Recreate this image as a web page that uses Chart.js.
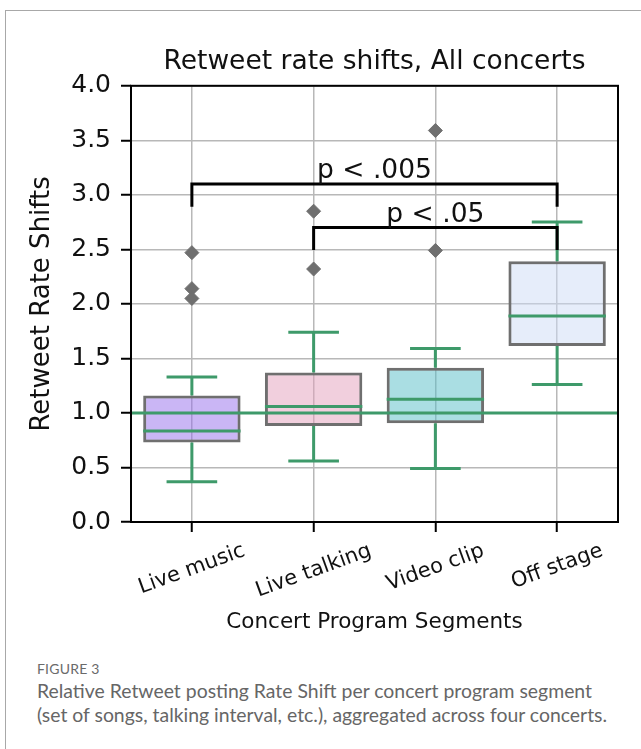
<!DOCTYPE html>
<html>
<head>
<meta charset="utf-8">
<script src="https://cdn.jsdelivr.net/npm/chart.js@4.4.1/dist/chart.umd.min.js"></script>
<style>
  body { margin: 0; background: #fff; }
  #frame { position: absolute; left: 5px; top: 10px; width: 700px; height: 800px;
           border-left: 1.5px solid #a8a8a8; border-top: 1.5px solid #a8a8a8; }
  #wrap { position: absolute; left: 0; top: 0; width: 641px; height: 650px; }
  #fig { position: absolute; left: 37px; top: 660px; font-family: Lato, sans-serif;
         font-size: 14px; color: #6a6a6a; letter-spacing: 0.2px; }
  #cap { position: absolute; left: 37px; top: 679px; font-family: Lato, sans-serif;
         font-size: 19.4px; line-height: 24px; color: #666; width: 604px; white-space: nowrap; }
</style>
</head>
<body>
<div id="frame"></div>
<div id="wrap"><canvas id="boxChart"></canvas></div>
<div id="fig">FIGURE 3</div>
<div id="cap">Relative Retweet posting Rate Shift per concert program segment<br>(set of songs, talking interval, etc.), aggregated across four concerts.</div>
<script>
const categories = ['Live music', 'Live talking', 'Video clip', 'Off stage'];
const q1 = [0.73, 0.88, 0.905, 1.615];
const q3 = [1.16, 1.37, 1.415, 2.39];
const medians = [0.835, 1.06, 1.125, 1.89];
const whiskerLow = [0.37, 0.56, 0.49, 1.26];
const whiskerHigh = [1.33, 1.74, 1.59, 2.75];
const outliers = [[2.47, 2.14, 2.05], [2.85, 2.32], [3.59, 2.49], []];
const yTicks = [0, 0.5, 1.0, 1.5, 2.0, 2.5, 3.0, 3.5, 4.0];
const baseline = 1.0;
const brackets = [
    { from: 0, to: 3, top: 3.1, foot: 2.89, text: 'p < .005' },
    { from: 1, to: 3, top: 2.7, foot: 2.495, text: 'p < .05' }
];

const boxFill = [
    'rgba(150, 110, 235, 0.5)',
    'rgba(228, 160, 188, 0.5)',
    'rgba(85, 190, 200, 0.5)',
    'rgba(205, 220, 245, 0.5)'
];
const green = '#3e9a6a';
const font = 'DejaVu Sans';

const boxParts = {
    id: 'boxParts',
    afterDatasetsDraw(chart) {
        const ctx = chart.ctx;
        const x = chart.scales.x, y = chart.scales.y;
        const area = chart.chartArea;
        const bars = chart.getDatasetMeta(0).data;
        ctx.save();
        ctx.strokeStyle = green;
        ctx.lineWidth = 3;
        categories.forEach((c, i) => {
            const cx = x.getPixelForValue(i);
            const half = bars[i].width / 2;
            const cap = half * 0.52;
            ctx.beginPath();
            ctx.moveTo(cx, y.getPixelForValue(q3[i]));
            ctx.lineTo(cx, y.getPixelForValue(whiskerHigh[i]));
            ctx.moveTo(cx, y.getPixelForValue(q1[i]));
            ctx.lineTo(cx, y.getPixelForValue(whiskerLow[i]));
            ctx.moveTo(cx - cap, y.getPixelForValue(whiskerHigh[i]));
            ctx.lineTo(cx + cap, y.getPixelForValue(whiskerHigh[i]));
            ctx.moveTo(cx - cap, y.getPixelForValue(whiskerLow[i]));
            ctx.lineTo(cx + cap, y.getPixelForValue(whiskerLow[i]));
            ctx.moveTo(cx - half, y.getPixelForValue(medians[i]));
            ctx.lineTo(cx + half, y.getPixelForValue(medians[i]));
            ctx.stroke();
        });
        // reference line
        ctx.beginPath();
        ctx.moveTo(area.left, y.getPixelForValue(baseline));
        ctx.lineTo(area.right, y.getPixelForValue(baseline));
        ctx.stroke();

        // axes frame
        ctx.strokeStyle = '#000';
        ctx.lineWidth = 2;
        ctx.strokeRect(area.left, area.top, area.right - area.left, area.bottom - area.top);

        // significance brackets
        ctx.lineWidth = 3;
        ctx.fillStyle = '#111';
        ctx.font = '26.5px "' + font + '"';
        ctx.textAlign = 'center';
        ctx.textBaseline = 'alphabetic';
        brackets.forEach(b => {
            const x1 = x.getPixelForValue(b.from), x2 = x.getPixelForValue(b.to);
            const yt = y.getPixelForValue(b.top), yf = y.getPixelForValue(b.foot);
            ctx.beginPath();
            ctx.moveTo(x1, yf);
            ctx.lineTo(x1, yt);
            ctx.lineTo(x2, yt);
            ctx.lineTo(x2, yf);
            ctx.stroke();
            ctx.fillText(b.text, (x1 + x2) / 2, yt - 6);
        });

        // rotated category labels
        ctx.font = '21px "' + font + '"';
        ctx.textBaseline = 'middle';
        const rot = 20 * Math.PI / 180;
        categories.forEach((c, i) => {
            const cx = x.getPixelForValue(i);
            const w = ctx.measureText(c).width, h = 24;
            const bh = w * Math.sin(rot) + h * Math.cos(rot);
            ctx.save();
            ctx.translate(cx, area.bottom + 17 + bh / 2);
            ctx.rotate(-rot);
            ctx.fillText(c, 0, 0);
            ctx.restore();
        });
        ctx.restore();
    }
};

const ctx = document.getElementById('boxChart').getContext('2d');

new Chart(ctx, {
    type: 'bar',
    data: {
        labels: categories,
        datasets: [{
            data: categories.map((c, i) => [q1[i], q3[i]]),
            backgroundColor: boxFill,
            borderColor: '#6f6f6f',
            borderWidth: 3,
            borderSkipped: false,
            barPercentage: 0.8,
            categoryPercentage: 1
        }, {
            type: 'scatter',
            data: outliers.flatMap((arr, i) => arr.map(v => ({ x: categories[i], y: v }))),
            pointStyle: 'rectRot',
            radius: 7,
            backgroundColor: '#6f6f6f',
            borderColor: '#6f6f6f'
        }]
    },
    options: {
        responsive: true,
        maintainAspectRatio: false,
        animation: false,
        layout: { padding: { left: 0, right: 23, top: 0, bottom: 15 } },
        plugins: {
            legend: { display: false },
            tooltip: { enabled: false },
            title: {
                display: true,
                fullSize: false,
                text: 'Retweet rate shifts, All concerts',
                color: '#111',
                font: { family: font, size: 26.5, weight: 'normal' },
                padding: { top: 46, bottom: 8 }
            }
        },
        scales: {
            x: {
                grid: { color: '#b8b8b8', lineWidth: 1.5, offset: false, tickColor: '#000', tickWidth: 2, tickLength: 10 },
                border: { display: false },
                ticks: { display: false },
                title: {
                    display: true,
                    text: 'Concert Program Segments',
                    color: '#111',
                    font: { family: font, size: 21.5 },
                    padding: { top: 0, bottom: 0 }
                },
                afterFit(scale) { scale.height = 113; }
            },
            y: {
                min: 0,
                max: 4,
                afterBuildTicks(scale) { scale.ticks = yTicks.map(v => ({ value: v })); },
                grid: { color: '#b8b8b8', lineWidth: 1.5, tickColor: '#000', tickWidth: 2, tickLength: 10 },
                border: { display: false },
                ticks: {
                    color: '#111',
                    padding: 10,
                    font: { family: font, size: 25 },
                    callback: v => Number(v).toFixed(1)
                },
                title: {
                    display: true,
                    text: 'Retweet Rate Shifts',
                    color: '#111',
                    font: { family: font, size: 26 },
                    padding: { top: 27, bottom: 0 }
                },
                afterFit(scale) { scale.width = 131; }
            }
        }
    },
    plugins: [boxParts]
});
</script>
</body>
</html>
